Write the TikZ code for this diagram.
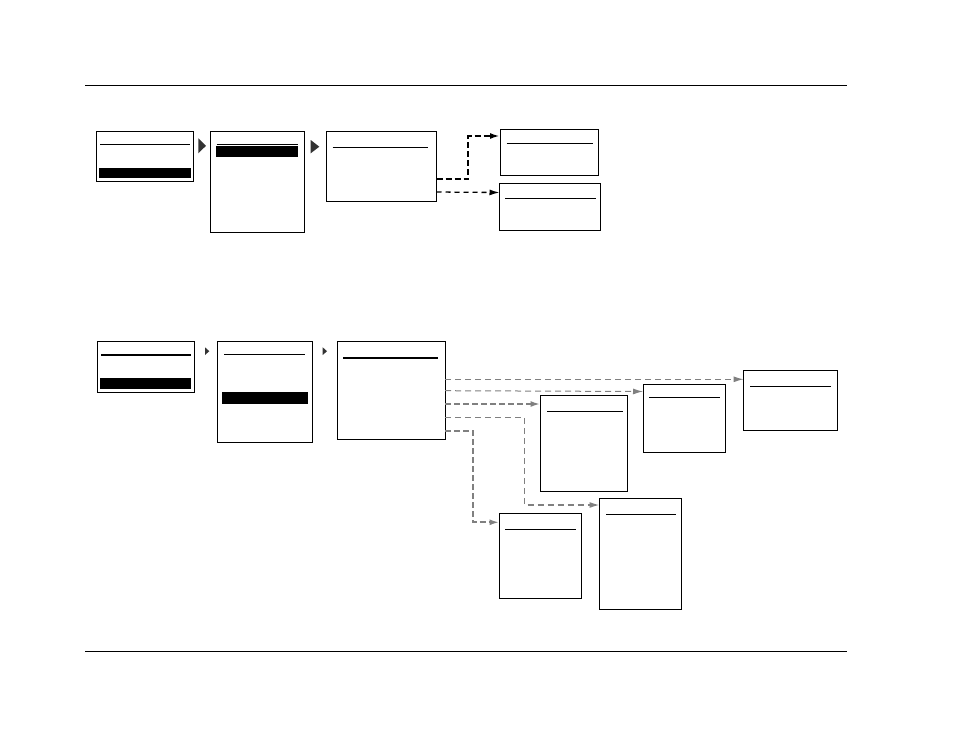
\documentclass[tikz,border=0pt]{standalone}
\usetikzlibrary{arrows.meta}
\definecolor{congray}{HTML}{808080}
\tikzset{
  scrbox/.style={draw=black, line width=1pt, inner sep=0pt, outer sep=0pt, fill=white},
  rule/.style={line width=1pt},
  hdr/.style={line width=1pt},
  hdrthick/.style={line width=2pt},
  navtri/.style={fill=black!80},
  tipA/.style={-{Latex[length=10pt,width=6pt]}},
  conblackthick/.style={tipA, draw=black, line width=2pt, dash pattern=on 6pt off 3pt},
  conblackthin/.style={tipA, draw=black, line width=1.3pt, dash pattern=on 5pt off 4pt},
  congraythin/.style={tipA, draw=congray, line width=1pt, dash pattern=on 6pt off 4pt},
  congraymid/.style={tipA, draw=congray, line width=1.4pt, dash pattern=on 6pt off 4pt},
  congraythick/.style={tipA, draw=congray, line width=2pt, dash pattern=on 6pt off 3pt},
}
\newcommand{\scrn}[5]{\node[scrbox, minimum width={#4-#2}, minimum height={#5-#3}] (#1) at ({(#2+#4)/2},{(#3+#5)/2}) {};}
\begin{document}
\begin{tikzpicture}[x=1pt,y=-1pt]
\useasboundingbox (0,0) rectangle (954,737);
% page rules
\draw[rule] (85,85.3) -- (847,85.3);
\draw[rule] (85,651.3) -- (847,651.3);

% ---------- top row ----------
\scrn{A}{96}{131.5}{193}{181}
\draw[hdr] (100,144) -- (190,144);
\fill (99,168) rectangle (191,178);
\fill[navtri] (198.3,138.3) -- (206,145.8) -- (198.3,153.3) -- cycle;

\scrn{B}{210}{131}{304}{232}
\draw[hdr] (216.7,144.3) -- (298.3,144.3);
\fill (215.7,146) rectangle (297.7,156.7);
\fill[navtri] (310.7,140) -- (319.3,146.7) -- (310.7,153.3) -- cycle;

\scrn{C}{326}{131}{436.5}{201}
\draw[hdr] (332.7,147.3) -- (427.7,147.3);

\scrn{D}{500}{129}{598.5}{175}
\draw[hdr] (506.7,143.3) -- (592.7,143.3);

\scrn{E}{499.5}{183}{600}{230}
\draw[hdr] (505,198.3) -- (596,198.3);

\draw[conblackthick] (C.east |- 0,179) -| (468,136) -- (D.west |- 0,136);
\draw[conblackthin] (C.east |- 0,192) -- (E.west |- 0,192.5);

% ---------- bottom row ----------
\scrn{F}{97.5}{341.5}{194.5}{392.5}
\draw[hdrthick] (101,355) -- (191,355);
\fill (100,377.7) rectangle (191.3,389);
\fill[navtri] (205,347.3) -- (209.3,351.2) -- (205,355) -- cycle;

\scrn{G}{217.5}{341}{312.5}{442}
\draw[hdr] (224,354.3) -- (305,354.3);
\fill (222,392.3) rectangle (307.7,404);
\fill[navtri] (322.7,347.3) -- (327,351.2) -- (322.7,355) -- cycle;

\scrn{H}{337.5}{341}{445}{439.5}
\draw[hdrthick] (343.3,357.7) -- (438.3,357.7);

\scrn{I}{540.5}{395.5}{627.5}{491}
\draw[hdr] (547.3,411.7) -- (623.3,411.7);

\scrn{J}{643}{384.5}{725.5}{452}
\draw[hdr] (649,397.3) -- (720,397.3);

\scrn{K}{743.5}{370.5}{837}{430}
\draw[hdr] (750,386) -- (831,386);

\scrn{L}{499.5}{513.5}{581.5}{598.5}
\draw[hdr] (505,529.3) -- (576,529.3);

\scrn{M}{599.5}{498.5}{681.5}{609}
\draw[hdr] (606,514.3) -- (676,514.3);

\draw[congraythin] (H.east |- 0,379.3) -- (K.west |- 0,379.3);
\draw[congraythin] (H.east |- 0,390.7) -- (J.west |- 0,391.5);
\draw[congraythick] (H.east |- 0,404) -- (I.west |- 0,404);
\draw[congraymid] (H.east |- 0,417.7) -| (524.3,505) -- (M.west |- 0,505);
\draw[congraythick] (H.east |- 0,431) -| (472.7,522.3) -- (L.west |- 0,522.3);
\end{tikzpicture}
\end{document}
